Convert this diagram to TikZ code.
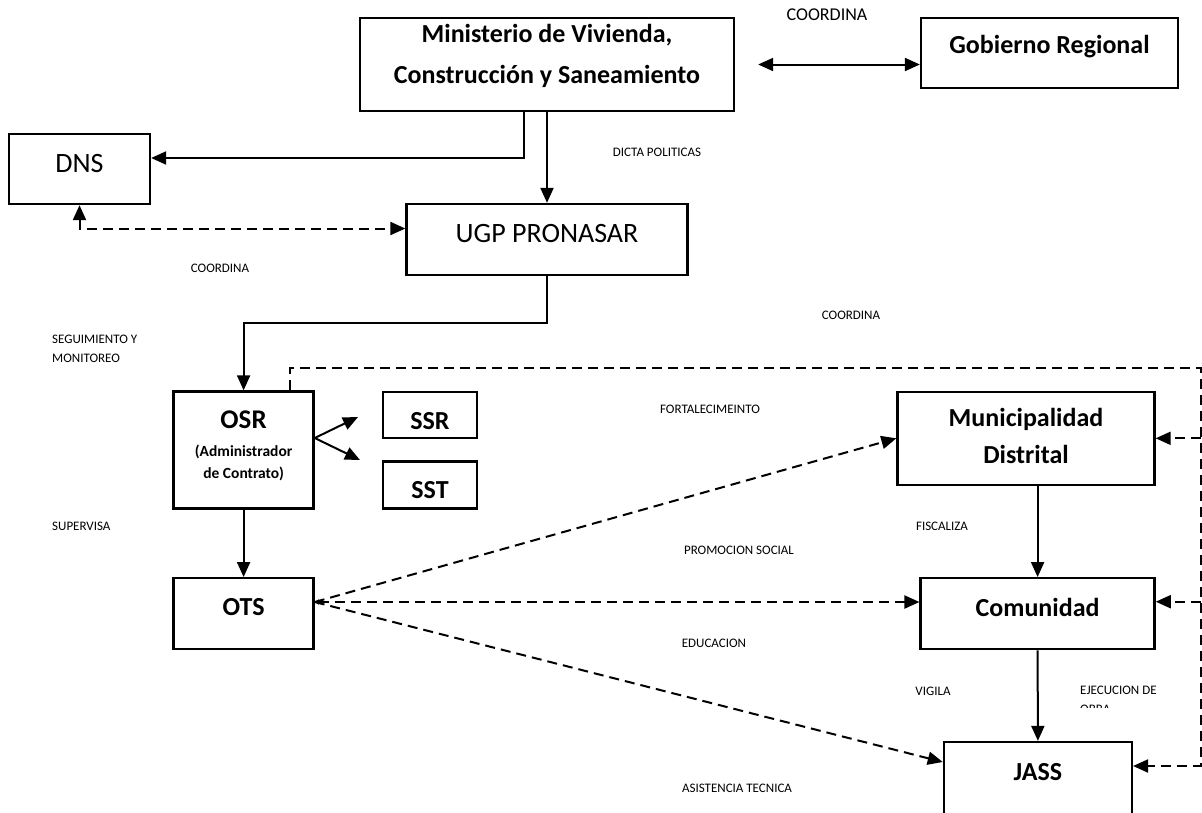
\documentclass[tikz,border=0pt]{standalone}
\usepackage{fontspec}
\setmainfont{Carlito}
\usetikzlibrary{arrows.meta}
\newcommand{\boxLine}[0]{2.3pt}
\newcommand{\arrowLine}[0]{2pt}
\newcommand{\tagFont}[0]{\fontsize{13}{19}\selectfont}
\newcommand{\headFont}[0]{\bfseries\fontsize{26}{37}\selectfont}
\newcommand{\plainFont}[0]{\fontsize{28}{34}\selectfont}

\begin{document}
\begin{tikzpicture}[x=1pt, y=-1pt, >={Triangle[length=15pt,width=13pt]}]
  \tikzset{
    box/.style={draw, line width=\boxLine, inner sep=0pt, align=center, font=\headFont, text height=20pt},
    arr/.style={line width=\arrowLine, ->},
    dline/.style={line width=\arrowLine, dash pattern=on 10pt off 6pt},
    darr/.style={dline, ->},
    tag/.style={inner sep=0pt, font=\tagFont}
  }
  \useasboundingbox (0,0) rectangle (1202,812);

  \node[box, minimum width=374pt, minimum height=93pt, text height=45pt, text depth=8pt, font=\bfseries\fontsize{26}{41}\selectfont] (mvcs) at (547,64.5) {Ministerio de Vivienda,\\Construcción y Saneamiento};
  \node[box, minimum width=257pt, minimum height=70pt, text depth=20pt] (greg) at (1049.5,53) {Gobierno Regional};
  \node[box, minimum width=141pt, minimum height=70pt, text depth=14pt, font=\plainFont] (dns) at (79.5,169) {DNS};
  \node[box, minimum width=281pt, minimum height=71pt, text depth=15pt, font=\plainFont] (ugp) at (547,239.5) {UGP PRONASAR};
  \node[box, minimum width=140pt, minimum height=117pt, text height=60pt, text depth=3.4pt, font=\bfseries\fontsize{15.5}{21.6}\selectfont] (osr) at (243.6,450) {{\fontsize{27}{27}\selectfont OSR}\\[7pt](Administrador\\de Contrato)};
  \node[box, minimum width=94pt, minimum height=46pt, text height=28pt, text depth=0pt] (ssr) at (430,415) {SSR};
  \node[box, minimum width=94pt, minimum height=47pt, text height=28pt, text depth=1.4pt] (sst) at (430,485) {SST};
  \node[box, minimum width=140pt, minimum height=71pt, text depth=17.4pt] (ots) at (243.6,613.7) {OTS};
  \node[box, minimum width=257pt, minimum height=93pt, text height=55pt, text depth=5pt] (muni) at (1026,438.3) {Municipalidad\\Distrital};
  \node[box, minimum width=234pt, minimum height=71pt, text depth=15.4pt] (com) at (1037.6,613.7) {Comunidad};
  \node[box, minimum width=188pt, minimum height=74pt, text depth=18pt] (jass) at (1037.9,779) {JASS};

  \node[tag, font=\fontsize{18}{22}\selectfont] (t-coord1) at (827,15) {COORDINA};
  \node[tag] (t-dicta) at (657,152) {DICTA POLITICAS};
  \node[tag] (t-coord2) at (220,268) {COORDINA};
  \node[tag, anchor=west, align=left] (t-segui) at (52,348.5) {SEGUIMIENTO Y\\MONITOREO};
  \node[tag] (t-coord3) at (851,315) {COORDINA};
  \node[tag] (t-fort) at (710,409) {FORTALECIMEINTO};
  \node[tag, anchor=west] (t-super) at (52,526) {SUPERVISA};
  \node[tag] (t-fisc) at (942,526) {FISCALIZA};
  \node[tag] (t-promo) at (739,550) {PROMOCION SOCIAL};
  \node[tag] (t-edu) at (714,643) {EDUCACION};
  \node[tag] (t-vig) at (933,691) {VIGILA};
  \begin{scope}
    \clip (1070,680) rectangle (1202,707.5);
    \node[tag, anchor=west, align=left] (t-ejec) at (1080,699.5) {EJECUCION DE\\OBRA};
  \end{scope}
  \node[tag] (t-asis) at (737,788) {ASISTENCIA TECNICA};

  \draw[arr, <->] ([xshift=23pt]mvcs.east) -- (mvcs.east -| greg.west);
  \draw[arr] ([xshift=-23pt]mvcs.south) |- ([yshift=11pt]dns.east);
  \draw[arr] (mvcs.south) -- (ugp.north);
  \draw[darr, <->] (dns.south) |- ([yshift=11pt]ugp.west);
  \draw[arr] (ugp.south) -- ++(0,46.7) -| (osr.north);

  \coordinate (osr-out) at ([yshift=12pt]osr.east);
  \coordinate (ssr-in) at (358,417);
  \coordinate (sst-in) at (360,460);
  \draw[arr] (osr-out) -- (ssr-in);
  \draw[arr] (osr-out) -- (sst-in);
  \draw[arr] (osr.south) -- (ots.north);

  \coordinate (ots-out) at ([yshift=11.7pt]ots.east);
  \draw[darr] (ots-out) -- (muni.west);
  \draw[dline, {Triangle[length=4pt,width=5pt]}->] (ots-out) -- (ots-out -| com.west);
  \draw[darr] (ots-out) -- ([yshift=17pt]jass.west);

  \coordinate (rail) at (1200.5,368.3);
  \coordinate (com-r) at ([yshift=12pt]com.east);
  \draw[darr] ([xshift=46pt]osr.north) |- (rail) |- ([yshift=13pt]jass.east);
  \draw[darr] (rail |- muni.east) -- (muni.east);
  \draw[darr] (rail |- com-r) -- (com-r);

  \draw[arr] (com.north |- muni.south) -- (com.north);
  \draw[arr] (com.south) -- (jass.north);
\end{tikzpicture}
\end{document}
